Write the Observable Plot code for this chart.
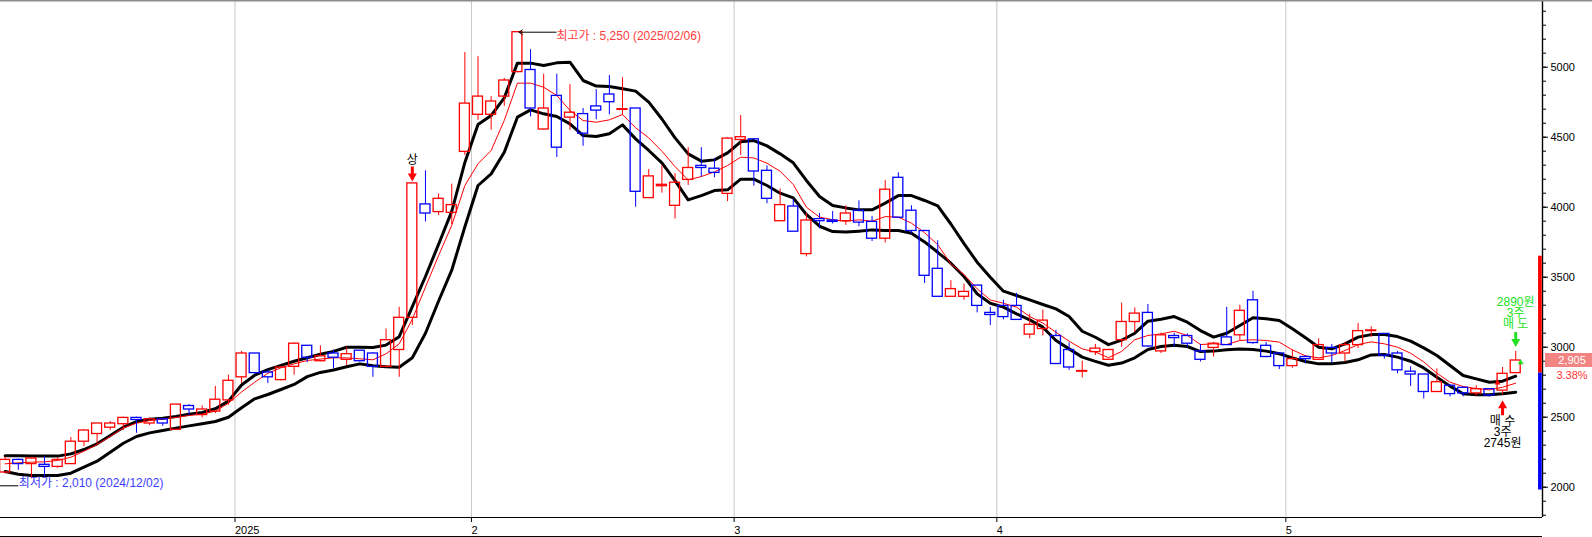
<!DOCTYPE html>
<html><head><meta charset="utf-8">
<script src="https://cdn.jsdelivr.net/npm/d3@7"></script>
<script src="https://cdn.jsdelivr.net/npm/@observablehq/plot@0.6"></script>
<style>html,body{margin:0;padding:0;background:#fff;overflow:hidden}</style>
</head><body><div id="chart"></div>
<script>
const dates = [
"2024-12-04","2024-12-05","2024-12-06","2024-12-09","2024-12-10","2024-12-11","2024-12-12","2024-12-13","2024-12-16","2024-12-17","2024-12-18","2024-12-19","2024-12-20","2024-12-23","2024-12-24","2024-12-26","2024-12-27","2024-12-30",
"2025-01-02","2025-01-03","2025-01-06","2025-01-07","2025-01-08","2025-01-09","2025-01-10","2025-01-13","2025-01-14","2025-01-15","2025-01-16","2025-01-17","2025-01-20","2025-01-21","2025-01-22","2025-01-23","2025-01-24","2025-01-31",
"2025-02-03","2025-02-04","2025-02-05","2025-02-06","2025-02-07","2025-02-10","2025-02-11","2025-02-12","2025-02-13","2025-02-14","2025-02-17","2025-02-18","2025-02-19","2025-02-20","2025-02-21","2025-02-24","2025-02-25","2025-02-26","2025-02-27","2025-02-28",
"2025-03-04","2025-03-05","2025-03-06","2025-03-07","2025-03-10","2025-03-11","2025-03-12","2025-03-13","2025-03-14","2025-03-17","2025-03-18","2025-03-19","2025-03-20","2025-03-21","2025-03-24","2025-03-25","2025-03-26","2025-03-27","2025-03-28","2025-03-31",
"2025-04-01","2025-04-02","2025-04-03","2025-04-04","2025-04-07","2025-04-08","2025-04-09","2025-04-10","2025-04-11","2025-04-14","2025-04-15","2025-04-16","2025-04-17","2025-04-18","2025-04-21","2025-04-22","2025-04-23","2025-04-24","2025-04-25","2025-04-28","2025-04-29","2025-04-30",
"2025-05-02","2025-05-07","2025-05-08","2025-05-09","2025-05-12","2025-05-13","2025-05-14","2025-05-15","2025-05-16","2025-05-19","2025-05-20","2025-05-21","2025-05-22","2025-05-23","2025-05-26","2025-05-27","2025-05-28","2025-05-29"
];
const openP = [
2105,2195,2165,2160,2145,2165,2325,2380,2425,2450,
2495,2455,2485,2410,2580,2515,2540,2620,2785,2955,
2820,2765,2860,3010,2900,2955,2910,2975,2955,2860,
2980,3210,4020,3965,3960,4395,4660,4660,4790,4965,
4980,4555,4795,4640,4665,4720,4805,4695,4705,4065,
4150,4010,4195,4295,4275,4095,4480,4485,4260,3900,
4005,3665,3915,3905,3900,3975,3895,3775,4210,3975,
3830,3560,3360,3360,3440,3245,3295,3295,3090,3130,
3080,2980,2825,2965,2910,3050,3180,3245,2970,3080,
3080,2970,2995,3070,3085,3335,3010,2955,2865,2930,
2910,2995,2955,3015,3115,3095,2955,2825,2805,2680,
2725,2710,2670,2700,2690,2815];
const highP = [
2215,2200,2210,2220,2210,2355,2410,2455,2470,2500,
2500,2495,2490,2590,2590,2580,2720,2800,2970,2955,
2835,2860,3030,3010,3010,2980,3000,2975,2960,3130,
3285,4170,4260,4095,4165,5105,5075,4790,4920,5250,
5125,4950,4950,4875,4705,4840,4940,4925,4705,4270,
4295,4240,4425,4425,4345,4495,4655,4490,4295,4130,
4055,3955,3955,3970,4010,4045,3935,4190,4245,4010,
3835,3760,3475,3450,3440,3285,3335,3385,3235,3265,
3120,3030,2900,3020,2985,3315,3280,3305,3100,3100,
3095,3020,3035,3285,3300,3400,3035,2955,2980,2940,
3060,3020,3035,3170,3145,3095,2970,2860,2805,2845,
2730,2715,2725,2705,2855,2970];
const lowP = [
2095,2120,2060,2070,2135,2165,2290,2310,2405,2405,
2385,2440,2435,2410,2510,2495,2525,2585,2740,2810,
2740,2760,2800,2890,2895,2845,2870,2895,2785,2855,
2785,3155,3895,3940,3875,4370,4620,4550,4720,4960,
4645,4550,4355,4550,4435,4625,4660,4655,4000,4065,
4100,3915,4155,4215,4210,4040,4370,4150,4025,3900,
3825,3645,3845,3880,3870,3860,3755,3745,3925,3810,
3455,3360,3360,3335,3245,3155,3195,3195,3060,3080,
2880,2835,2780,2940,2905,3000,3105,3000,2955,3000,
3000,2895,2930,3015,3045,3020,2925,2840,2850,2880,
2910,2885,2895,2990,3070,2915,2810,2720,2630,2680,
2645,2645,2650,2645,2660,2815];
const closeP = [
2195,2165,2205,2145,2195,2325,2405,2455,2455,2495,
2480,2485,2455,2590,2555,2555,2625,2760,2955,2815,
2785,2855,3025,2925,2935,2925,2950,2900,2860,3050,
3210,4170,3955,4060,4015,4740,4790,4755,4905,5250,
4705,4705,4425,4675,4525,4690,4750,4700,4110,4220,
4160,4175,4280,4280,4245,4490,4500,4255,4060,4015,
3825,3905,3900,3895,3955,3890,3775,4125,3925,3830,
3510,3360,3415,3395,3295,3230,3215,3195,3160,3190,
2880,2855,2830,2990,2980,3180,3240,3005,3085,3065,
3025,2910,3025,3015,3260,3030,2930,2865,2915,2915,
3015,2955,3015,3115,3120,2940,2835,2805,2680,2750,
2665,2670,2700,2655,2810,2905];
const bandUpper = [
2224,2224,2222,2222,2222,2238,2269,2310,2369,2429,
2469,2486,2493,2505,2522,2534,2560,2615,2730,2800,
2840,2870,2900,2925,2950,2970,3000,3000,2998,3015,
3075,3290,3505,3735,3970,4320,4591,4655,4781,5029,
5029,5012,5031,5036,4905,4865,4862,4846,4829,4750,
4630,4495,4381,4329,4338,4388,4467,4476,4438,4381,
4317,4191,4076,4012,3995,3981,3981,4029,4083,4083,
4048,4010,3880,3740,3607,3500,3400,3369,3338,3305,
3274,3219,3114,3071,3018,3050,3100,3186,3200,3219,
3179,3119,3072,3100,3155,3210,3203,3191,3131,3067,
3000,2988,3024,3072,3090,3090,3076,3043,2995,2941,
2869,2798,2774,2750,2757,2793];
const bandMid = [
2167,2174,2179,2181,2191,2214,2257,2305,2362,2424,
2457,2476,2488,2498,2512,2522,2543,2600,2680,2750,
2814,2853,2881,2905,2915,2924,2924,2917,2910,2953,
3024,3200,3429,3655,3870,4155,4310,4405,4620,4886,
4886,4857,4798,4691,4619,4607,4624,4662,4567,4495,
4400,4290,4195,4219,4252,4298,4357,4352,4314,4257,
4162,4000,3929,3910,3900,3910,3900,3933,3929,3886,
3818,3732,3595,3519,3417,3338,3314,3286,3219,3172,
3107,3043,2988,2965,2925,2970,3053,3084,3095,3114,
3084,3019,3024,3019,3048,3053,3048,3036,2981,2938,
2924,2941,2976,3019,3038,3024,3000,2957,2895,2814,
2750,2719,2705,2695,2714,2743];
const bandLower = [
2112,2093,2084,2084,2084,2100,2143,2186,2250,2314,
2362,2388,2405,2422,2438,2453,2469,2500,2567,2631,
2662,2698,2734,2790,2820,2837,2860,2881,2868,2860,
2857,2925,3100,3330,3550,3860,4155,4238,4393,4643,
4695,4667,4648,4595,4512,4505,4524,4588,4488,4405,
4316,4190,4052,4083,4119,4124,4200,4200,4155,4100,
4067,3948,3864,3826,3822,3829,3838,3833,3833,3814,
3752,3678,3600,3505,3381,3314,3286,3238,3195,3143,
3048,2988,2929,2899,2871,2887,2924,2984,3005,3014,
3005,2969,2972,2981,2988,2984,2972,2953,2924,2898,
2881,2881,2891,2910,2945,2948,2929,2900,2852,2786,
2722,2667,2660,2660,2667,2679];
const monthLabels = ["2025","2","3","4","5"];
const yTickValues = [2000,2500,3000,3500,4000,4500,5000];
const yMinorTicks = d3.range(1800, 5500, 100);
const highNote = {label:"최고가", value:5250, date:"2025/02/06"};
const lowNote = {label:"최저가", value:2010, date:"2024/12/02", i:-2};
const limitUp = {i:31, label:"상"};
const buyNote = {i:114, price:2745, qty:"3주", label:"매 수"};
const sellNote = {i:115, price:2890, qty:"3주", label:"매 도"};
const changePct = "3.38%";
const rangeBar = [{y1:3650, y2:2815, color:"#ff0000"},{y1:2815, y2:1980, color:"#0000ff"}];

// ---- build tables
const candles = dates.map((d,i)=>({i, date:d, o:openP[i], h:highP[i], l:lowP[i], c:closeP[i], up: closeP[i] >= openP[i]}));
const bands = dates.map((d,i)=>({i, up:bandUpper[i], mid:bandMid[i], lo:bandLower[i]}));
const gridPos = [];
for (let i=1;i<dates.length;i++) if (dates[i].slice(0,7)!==dates[i-1].slice(0,7)) gridPos.push(i-0.5);
const labelAt = new Map(gridPos.map((p,k)=>[p, monthLabels[k]]));
const hiIdx = d3.maxIndex(highP);
const hiPt = {i:hiIdx, v:highP[hiIdx], text:`${highNote.label} : ${d3.format(",")(highNote.value)} (${highNote.date})`};
const loPt = {i:lowNote.i, v:lowNote.value, text:`${lowNote.label} : ${d3.format(",")(lowNote.value)} (${lowNote.date})`};
const last = candles[candles.length-1];

const xDom = [-0.353, 117.04];
const yDom = [1783.6, 5476.4];
const BW = 0.38;
const upC = candles.filter(d=>d.up), dnC = candles.filter(d=>!d.up);

const arrowDown = {draw(ctx){ctx.moveTo(-1.5,-15);ctx.lineTo(1.5,-15);ctx.lineTo(1.5,-8);ctx.lineTo(4.5,-8);ctx.lineTo(0,0);ctx.lineTo(-4.5,-8);ctx.lineTo(-1.5,-8);ctx.closePath();}};
const arrowUp = {draw(ctx){ctx.moveTo(-1.5,15);ctx.lineTo(1.5,15);ctx.lineTo(1.5,8);ctx.lineTo(4.5,8);ctx.lineTo(0,0);ctx.lineTo(-4.5,8);ctx.lineTo(-1.5,8);ctx.closePath();}};

const font = "'Liberation Sans','Noto Sans CJK KR',sans-serif";
const plot = Plot.plot({
  width:1592, height:537, marginLeft:0, marginRight:50, marginTop:0, marginBottom:20,
  style:{fontFamily:font, fontSize:"11px", background:"#fff", color:"#000", overflow:"visible"},
  x:{type:"linear", domain:xDom, label:null},
  y:{type:"linear", domain:yDom, label:null},
  marks:[
    Plot.ruleX(gridPos, {stroke:"#c8c8c8", strokeWidth:1}),
    Plot.ruleY([yDom[0]], {stroke:"#000", strokeWidth:1}),
    Plot.ruleX([xDom[1]], {stroke:"#000", strokeWidth:1.4}),
    Plot.axisY({anchor:"right", label:null, ticks:yMinorTicks, tickSize:3, tickFormat:()=>"" }),
    Plot.axisY({anchor:"right", label:null, ticks:yTickValues, tickSize:5, tickPadding:3, fontSize:11, tickFormat:d=>String(d)}),
    Plot.axisX({anchor:"bottom", label:null, ticks:gridPos, tickSize:5, tickPadding:4, fontSize:11, textAnchor:"start", tickFormat:d=>labelAt.get(d)}),
    Plot.rect(rangeBar, {x1:xDom[1]-0.3, x2:xDom[1]-0.02, y1:"y1", y2:"y2", fill:"color"}),
    Plot.line(bands, {x:"i", y:"up", stroke:"#000", strokeWidth:3}),
    Plot.line(bands, {x:"i", y:"lo", stroke:"#000", strokeWidth:3}),
    Plot.line(bands, {x:"i", y:"mid", stroke:"#ff0000", strokeWidth:1}),
    Plot.ruleX(upC, {x:"i", y1:"h", y2:d=>Math.max(d.o,d.c), stroke:"#ff0000"}),
    Plot.ruleX(upC, {x:"i", y1:d=>Math.min(d.o,d.c), y2:"l", stroke:"#ff0000"}),
    Plot.ruleX(dnC, {x:"i", y1:"h", y2:d=>Math.max(d.o,d.c), stroke:"#0000ff"}),
    Plot.ruleX(dnC, {x:"i", y1:d=>Math.min(d.o,d.c), y2:"l", stroke:"#0000ff"}),
    Plot.rect(upC, {x1:d=>d.i-BW, x2:d=>d.i+BW, y1:"o", y2:"c", fill:"none", stroke:"#ff0000", strokeWidth:1.3}),
    Plot.rect(dnC, {x1:d=>d.i-BW, x2:d=>d.i+BW, y1:"o", y2:"c", fill:"none", stroke:"#0000ff", strokeWidth:1.3}),
    // high annotation
    Plot.arrow([hiPt], {x1:d=>d.i+2.95, x2:d=>d.i+0.12, y1:"v", y2:"v", stroke:"#000", strokeWidth:1, headLength:6, headAngle:70}),
    Plot.text([hiPt], {x:"i", y:"v", text:"text", dx:39, dy:4, textAnchor:"start", fill:"#ff3c3c", fontSize:12}),
    // low annotation
    Plot.arrow([loPt], {x1:d=>d.i+2.98, x2:d=>d.i+0.12, y1:"v", y2:"v", stroke:"#000", strokeWidth:1, headLength:6, headAngle:70}),
    Plot.text([loPt], {x:"i", y:"v", text:"text", dx:40, dy:-2.5, textAnchor:"start", fill:"#3c3cff", fontSize:12}),
    // limit up
    Plot.dot([candles[limitUp.i]], {x:"i", y:"h", symbol:arrowDown, fill:"#ff0000", stroke:null, r:5, dy:-2}),
    Plot.text([candles[limitUp.i]], {x:"i", y:"h", text:()=>limitUp.label, dy:-23, fill:"#000", fontSize:12}),
    // buy
    Plot.dot([candles[buyNote.i]], {x:"i", y:"l", symbol:arrowUp, fill:"#ff0000", stroke:null, r:5, dy:5.5}),
    Plot.text([candles[buyNote.i]], {x:"i", y:"l", text:()=>`${buyNote.label}\n${buyNote.qty}\n${buyNote.price}원`, lineAnchor:"top", lineHeight:0.92, dy:22, fill:"#000", fontSize:12}),
    Plot.dot([{i:buyNote.i-BW, v:buyNote.price}], {x:"i", y:"v", symbol:"triangle", r:2.2, fill:"#ff0000", stroke:null}),
    // sell
    Plot.dot([candles[sellNote.i]], {x:"i", y:"h", symbol:arrowDown, fill:"#22e022", stroke:null, r:5, dy:-4.5}),
    Plot.text([candles[sellNote.i]], {x:"i", y:"h", text:()=>`${sellNote.price}원\n${sellNote.qty}\n${sellNote.label}`, lineAnchor:"bottom", lineHeight:0.95, dy:-23, fill:"#22e022", fontSize:12}),
    Plot.dot([{i:sellNote.i+BW, v:sellNote.price}], {x:"i", y:"v", symbol:"triangle", r:2.2, fill:"#22e022", stroke:null})
  ]
});
document.getElementById("chart").appendChild(plot);
const svg = d3.select(plot);
const ys = plot.scale("y");
const yc = ys.apply(last.c);
svg.append("rect").attr("x",0).attr("y",0).attr("width",1592).attr("height",1.5).attr("fill","#8c8c8c");
svg.append("line").attr("x1",0).attr("x2",1542).attr("y1",536.5).attr("y2",536.5).attr("stroke","#000");
svg.append("rect").attr("x",1545).attr("y",yc-7).attr("width",47).attr("height",14).attr("fill","#f28482");
svg.append("text").attr("x",1572).attr("y",yc+4).attr("text-anchor","middle").attr("fill","#fff").attr("font-size",11).attr("font-family","'Liberation Sans',sans-serif").text(d3.format(",")(last.c));
svg.append("text").attr("x",1572).attr("y",yc+18.5).attr("text-anchor","middle").attr("fill","#ff3333").attr("font-size",11).attr("font-family","'Liberation Sans',sans-serif").text(changePct);
</script></body></html>
